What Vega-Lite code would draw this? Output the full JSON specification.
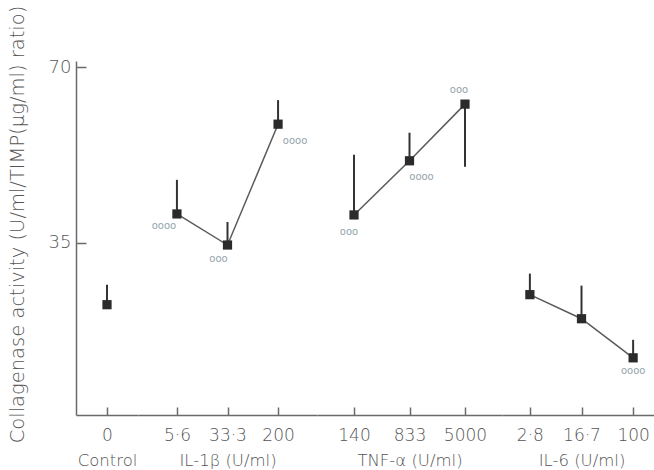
{
  "$schema": "https://vega.github.io/schema/vega-lite/v6.json",
  "padding": {"left": 7, "top": 5, "right": 0, "bottom": 0},
  "spacing": 0,
  "config": {
    "font": "DejaVu Sans",
    "view": {"stroke": null},
    "axis": {
      "domainColor": "#6a6a6a",
      "domainWidth": 1.5,
      "tickColor": "#6a6a6a",
      "tickWidth": 1.5,
      "labelColor": "#555555",
      "titleColor": "#555555",
      "labelFont": "DejaVu Sans",
      "titleFont": "DejaVu Sans",
      "labelFontWeight": 200,
      "titleFontWeight": 200,
      "labelFontSize": 17,
      "titleFontSize": 16.5,
      "grid": false
    }
  },
  "data": {
    "values": [
      {"group": "Control", "dose": "0", "value": 22.6, "err": 26.6, "sig": ""},
      {"group": "IL-1β", "dose": "5·6", "value": 40.7, "err": 47.5, "sig": "oooo"},
      {"group": "IL-1β", "dose": "33·3", "value": 34.5, "err": 39.1, "sig": "ooo"},
      {"group": "IL-1β", "dose": "200", "value": 58.6, "err": 63.4, "sig": "oooo"},
      {"group": "TNF-α", "dose": "140", "value": 40.5, "err": 52.5, "sig": "ooo"},
      {"group": "TNF-α", "dose": "833", "value": 51.3, "err": 56.9, "sig": "oooo"},
      {"group": "TNF-α", "dose": "5000", "value": 62.6, "err": 50.1, "sig": "ooo"},
      {"group": "IL-6", "dose": "2·8", "value": 24.6, "err": 28.8, "sig": ""},
      {"group": "IL-6", "dose": "16·7", "value": 19.8, "err": 26.4, "sig": ""},
      {"group": "IL-6", "dose": "100", "value": 12.0, "err": 15.6, "sig": "oooo"}
    ]
  },
  "hconcat": [
    {
      "width": 62,
      "height": 354,
      "transform": [{"filter": "datum.group === 'Control'"}],
      "encoding": {
        "x": {"field": "dose", "type": "nominal", "sort": null, "scale": {"type": "point", "padding": 0.5},
              "axis": {"title": "Control", "labelAngle": 0, "tickSize": -8, "labelPadding": 20, "titlePadding": 9}},
        "y": {"field": "value", "type": "quantitative", "scale": {"domain": [0.6, 71.2], "nice": false, "zero": false},
              "axis": {"values": [35, 70], "tickSize": -10, "labelPadding": 15, "labelFontSize": 18, "title": "Collagenase activity (U/ml/TIMP(μg/ml) ratio)", "titleFontSize": 19.5, "titlePadding": 21, "titleY": 163}}
      },
      "layer": [
        {"mark": {"type": "rule", "strokeWidth": 2, "color": "#333333"}, "encoding": {"y2": {"field": "err"}}},
        {"mark": {"type": "square", "filled": true, "size": 85, "color": "#2b2b2b", "opacity": 1}}
      ]
    },
    {
      "width": 179,
      "height": 354,
      "transform": [{"filter": "datum.group === 'IL-1β'"}],
      "encoding": {
        "x": {"field": "dose", "type": "nominal", "sort": null, "scale": {"type": "point", "padding": 0.77},
              "axis": {"title": "IL-1β (U/ml)", "labelAngle": 0, "tickSize": -8, "labelPadding": 20, "titlePadding": 9}},
        "y": {"field": "value", "type": "quantitative", "scale": {"domain": [0.6, 71.2], "nice": false, "zero": false}, "axis": null}
      },
      "layer": [
        {"mark": {"type": "line", "color": "#5a5a5a", "strokeWidth": 1.5}, "encoding": {}},
        {"mark": {"type": "rule", "strokeWidth": 2, "color": "#333333"}, "encoding": {"y2": {"field": "err"}}},
        {"mark": {"type": "square", "filled": true, "size": 85, "color": "#2b2b2b", "opacity": 1}},
        {"transform": [{"filter": "datum.dose === '5·6'"}], "mark": {"type": "text", "dx": -13, "dy": 12, "fontSize": 10, "color": "#93a4ac"}, "encoding": {"text": {"field": "sig"}}},
        {"transform": [{"filter": "datum.dose === '33·3'"}], "mark": {"type": "text", "dx": -9, "dy": 14, "fontSize": 10, "color": "#93a4ac"}, "encoding": {"text": {"field": "sig"}}},
        {"transform": [{"filter": "datum.dose === '200'"}], "mark": {"type": "text", "dx": 17, "dy": 17, "fontSize": 10, "color": "#93a4ac"}, "encoding": {"text": {"field": "sig"}}}
      ]
    },
    {
      "width": 185,
      "height": 354,
      "transform": [{"filter": "datum.group === 'TNF-α'"}],
      "encoding": {
        "x": {"field": "dose", "type": "nominal", "sort": null, "scale": {"type": "point", "padding": 0.667},
              "axis": {"title": "TNF-α (U/ml)", "labelAngle": 0, "tickSize": -8, "labelPadding": 20, "titlePadding": 9}},
        "y": {"field": "value", "type": "quantitative", "scale": {"domain": [0.6, 71.2], "nice": false, "zero": false}, "axis": null}
      },
      "layer": [
        {"mark": {"type": "line", "color": "#5a5a5a", "strokeWidth": 1.5}, "encoding": {}},
        {"mark": {"type": "rule", "strokeWidth": 2, "color": "#333333"}, "encoding": {"y2": {"field": "err"}}},
        {"mark": {"type": "square", "filled": true, "size": 85, "color": "#2b2b2b", "opacity": 1}},
        {"transform": [{"filter": "datum.dose === '140'"}], "mark": {"type": "text", "dx": -5, "dy": 17, "fontSize": 10, "color": "#93a4ac"}, "encoding": {"text": {"field": "sig"}}},
        {"transform": [{"filter": "datum.dose === '833'"}], "mark": {"type": "text", "dx": 12, "dy": 16, "fontSize": 10, "color": "#93a4ac"}, "encoding": {"text": {"field": "sig"}}},
        {"transform": [{"filter": "datum.dose === '5000'"}], "mark": {"type": "text", "dx": -6, "dy": -14, "fontSize": 10, "color": "#93a4ac"}, "encoding": {"text": {"field": "sig"}}}
      ]
    },
    {
      "width": 159,
      "height": 354,
      "transform": [{"filter": "datum.group === 'IL-6'"}],
      "encoding": {
        "x": {"field": "dose", "type": "nominal", "sort": null, "scale": {"type": "point", "padding": 0.54},
              "axis": {"title": "IL-6 (U/ml)", "labelAngle": 0, "tickSize": -8, "labelPadding": 20, "titlePadding": 9}},
        "y": {"field": "value", "type": "quantitative", "scale": {"domain": [0.6, 71.2], "nice": false, "zero": false}, "axis": null}
      },
      "layer": [
        {"mark": {"type": "line", "color": "#5a5a5a", "strokeWidth": 1.5}, "encoding": {}},
        {"mark": {"type": "rule", "strokeWidth": 2, "color": "#333333"}, "encoding": {"y2": {"field": "err"}}},
        {"mark": {"type": "square", "filled": true, "size": 85, "color": "#2b2b2b", "opacity": 1}},
        {"transform": [{"filter": "datum.dose === '100'"}], "mark": {"type": "text", "dx": 0, "dy": 13, "fontSize": 10, "color": "#93a4ac"}, "encoding": {"text": {"field": "sig"}}}
      ]
    }
  ],
  "resolve": {"scale": {"x": "independent", "y": "independent"}}
}
